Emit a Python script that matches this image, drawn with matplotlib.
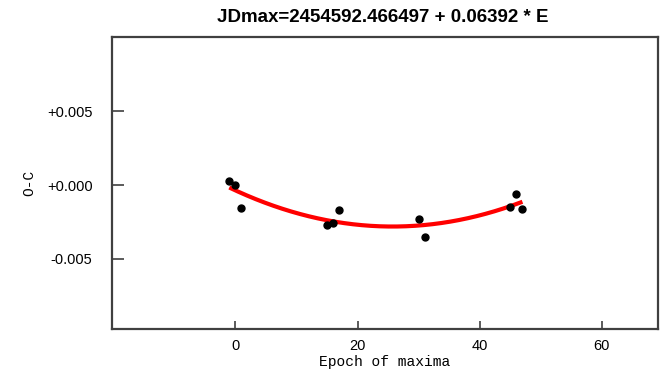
import numpy as np
import matplotlib
matplotlib.use("Agg")
import matplotlib.pyplot as plt

# Observed times of maxima: epoch number and O-C residual (days)
epoch = [-1, 0, 1, 15, 16, 17, 30, 31, 45, 46, 47]
o_minus_c = [0.00029, 0.00000, -0.00154, -0.00272, -0.00256, -0.00170,
             -0.00233, -0.00351, -0.00151, -0.00061, -0.00161]

x_ticks = [0, 20, 40, 60]
y_ticks = [0.005, 0.0, -0.005]
y_tick_labels = ["+0.005", "+0.000", "-0.005"]
title = "JDmax=2454592.466497 + 0.06392 * E"

fig = plt.figure(figsize=(6.66, 3.73), dpi=100)
ax = fig.add_axes([0.1682, 0.118, 0.8198, 0.784])

# quadratic trend through the residuals
coef = np.polyfit(epoch, o_minus_c, 2)
xs = np.linspace(min(epoch), max(epoch), 200)
ax.plot(xs, np.polyval(coef, xs), color="#ff0000", lw=3.0, solid_capstyle="butt", zorder=2)
ax.plot(epoch, o_minus_c, "o", color="black", ms=5, zorder=3)

ax.set_xlim(-20.2, 69.2)
ax.set_ylim(-0.00978, 0.01009)

ax.set_xticks(x_ticks)
ax.set_xticklabels([str(t) for t in x_ticks])
ax.set_yticks(y_ticks)
ax.set_yticklabels(y_tick_labels)

for sp in ax.spines.values():
    sp.set_color("#404040")
    sp.set_linewidth(1.6)

ax.tick_params(axis="x", direction="in", length=6, width=1.2, color="#404040",
               pad=7, labelsize=10.5, top=False)
ax.tick_params(axis="y", direction="in", length=8.5, width=1.2, color="#404040",
               pad=14, labelsize=10.5, right=False)
for lab in ax.get_xticklabels() + ax.get_yticklabels():
    lab.set_family("Liberation Sans")

ax.set_xlabel("Epoch of maxima", family="Liberation Mono", fontsize=10.5, labelpad=2)
ax.set_ylabel("O-C", family="Liberation Mono", fontsize=10.5, labelpad=8)

fig.text(0.575, 0.953, title, ha="center", va="center",
         family="Liberation Sans", fontweight="bold", fontsize=13.5)

fig.savefig("out.png", dpi=100, facecolor="white")
